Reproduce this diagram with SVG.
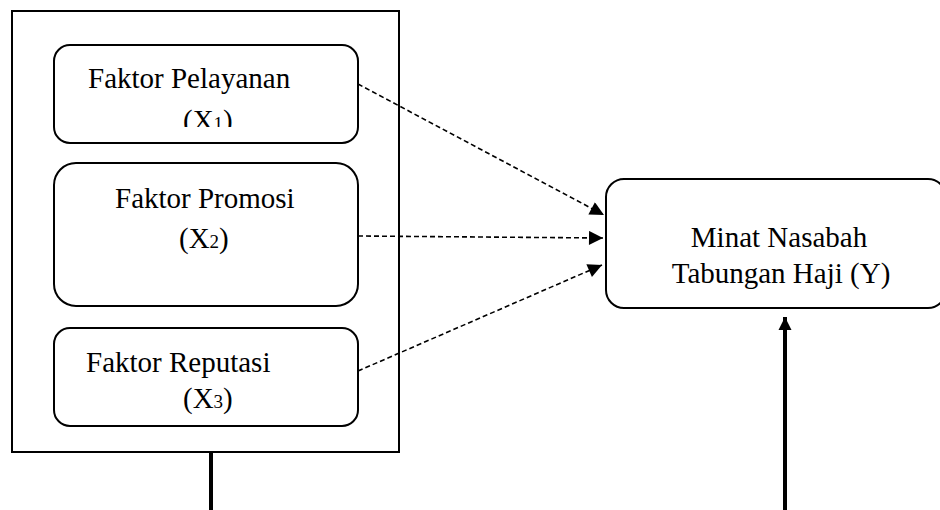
<svg xmlns="http://www.w3.org/2000/svg" width="940" height="510" viewBox="0 0 940 510">
<defs>
<style>
.box{fill:#fff;stroke:#000;stroke-width:2}
.t{font-family:"Liberation Serif","Times New Roman",serif;font-size:29px;fill:#000}
.sub{font-size:19px}
.dash{fill:none;stroke:#000;stroke-width:1.6;stroke-dasharray:5,3}
.solid{fill:none;stroke:#000;stroke-width:4}
</style>
<marker id="ah" viewBox="0 0 10 10" refX="10" refY="5" markerWidth="16" markerHeight="14" markerUnits="userSpaceOnUse" orient="auto">
<path d="M0,0 L10,5 L0,10 z" fill="#000"/>
</marker>
<marker id="ahb" viewBox="0 0 10 10" refX="10" refY="5" markerWidth="13" markerHeight="15" markerUnits="userSpaceOnUse" orient="auto">
<path d="M0,0 L10,5 L0,10 z" fill="#000"/>
</marker>
<clipPath id="c1"><rect x="54" y="45" width="304" height="82"/></clipPath>
</defs>
<rect width="940" height="510" fill="#fff"/>
<g id="outer">
<rect class="box" x="12" y="11" width="387" height="441" stroke-width="2.5"/>
</g>
<g id="x1">
<rect class="box" x="54" y="45" width="304" height="98" rx="16"/>
<text class="t" x="88" y="88">Faktor Pelayanan</text>
<text class="t" x="183" y="130" clip-path="url(#c1)">(X<tspan class="sub">1</tspan>)</text>
</g>
<g id="x2">
<rect class="box" x="54" y="163" width="304" height="143" rx="22"/>
<text class="t" x="115" y="208">Faktor Promosi</text>
<text class="t" x="179" y="248">(X<tspan class="sub">2</tspan>)</text>
</g>
<g id="x3">
<rect class="box" x="54" y="328" width="304" height="98" rx="16"/>
<text class="t" x="86" y="372">Faktor Reputasi</text>
<text class="t" x="183" y="408">(X<tspan class="sub">3</tspan>)</text>
</g>
<g id="y">
<rect class="box" x="606" y="179" width="340" height="129" rx="18"/>
<text class="t" x="779" y="247" text-anchor="middle">Minat Nasabah</text>
<text class="t" x="781" y="283" text-anchor="middle">Tabungan Haji (Y)</text>
</g>
<g id="connectors">
<line class="dash" x1="358" y1="84" x2="604" y2="215" marker-end="url(#ah)"/>
<line class="dash" x1="358" y1="236" x2="603" y2="238" marker-end="url(#ah)"/>
<line class="dash" x1="358" y1="371" x2="602" y2="265" marker-end="url(#ah)"/>
<line class="solid" x1="211" y1="452" x2="211" y2="510"/>
<line class="solid" x1="785" y1="510" x2="785" y2="317" marker-end="url(#ahb)"/>
</g>
</svg>
